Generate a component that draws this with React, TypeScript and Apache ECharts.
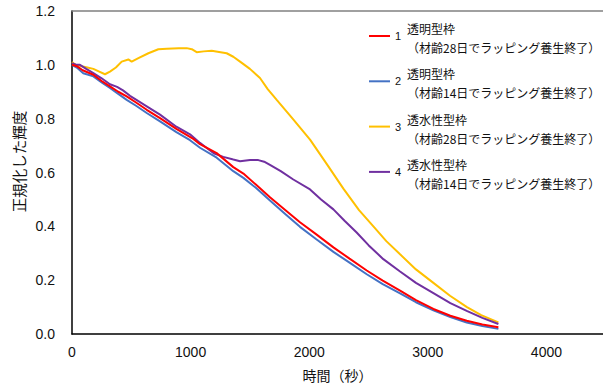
import React, { useEffect, useRef } from "react";
import * as echarts from "echarts";

// Time (s) and normalized luminance
const series1: [number, number][] = [
  [0, 1.0], [40, 0.995], [90, 0.98], [180, 0.963], [250, 0.94], [320, 0.92], [390, 0.9],
  [461, 0.883], [540, 0.86], [630, 0.833], [742, 0.802], [880, 0.762], [1023, 0.725],
  [1079, 0.705], [1220, 0.672], [1360, 0.62], [1445, 0.596], [1550, 0.555], [1669, 0.508],
  [1800, 0.46], [1922, 0.415], [2060, 0.37], [2204, 0.322], [2340, 0.28], [2485, 0.236],
  [2620, 0.198], [2766, 0.161], [2900, 0.126], [3047, 0.093], [3190, 0.068], [3328, 0.049],
  [3460, 0.035], [3595, 0.025],
];
const series2: [number, number][] = [
  [0, 1.0], [40, 0.99], [95, 0.969], [180, 0.957], [250, 0.935], [320, 0.914], [390, 0.892],
  [461, 0.87], [540, 0.848], [630, 0.821], [742, 0.79], [880, 0.75], [995, 0.72],
  [1079, 0.692], [1220, 0.655], [1360, 0.605], [1445, 0.58], [1550, 0.543], [1669, 0.496],
  [1800, 0.445], [1922, 0.398], [2060, 0.352], [2204, 0.305], [2340, 0.265], [2485, 0.222],
  [2620, 0.185], [2766, 0.151], [2900, 0.118], [3047, 0.088], [3190, 0.063], [3328, 0.043],
  [3460, 0.03], [3595, 0.019],
];
const series3: [number, number][] = [
  [0, 1.01], [30, 1.0], [80, 0.995], [130, 0.99], [180, 0.985], [230, 0.975], [278, 0.965],
  [320, 0.975], [370, 0.99], [419, 1.012], [475, 1.02], [503, 1.012], [560, 1.025],
  [644, 1.043], [728, 1.058], [800, 1.06], [900, 1.062], [967, 1.062], [1010, 1.058],
  [1051, 1.047], [1110, 1.05], [1178, 1.052], [1240, 1.048], [1304, 1.043], [1360, 1.03],
  [1417, 1.012], [1500, 0.985], [1585, 0.951], [1650, 0.91], [1726, 0.87], [1860, 0.8],
  [2007, 0.722], [2150, 0.63], [2288, 0.54], [2420, 0.46], [2541, 0.4], [2650, 0.345],
  [2766, 0.296], [2900, 0.24], [3047, 0.19], [3187, 0.142], [3330, 0.1], [3450, 0.07],
  [3595, 0.043],
];
const series4: [number, number][] = [
  [0, 1.006], [40, 1.0], [67, 1.0], [120, 0.985], [180, 0.969], [250, 0.95], [320, 0.928],
  [380, 0.918], [430, 0.905], [489, 0.885], [560, 0.865], [630, 0.846],
  [742, 0.815], [880, 0.77], [995, 0.742], [1079, 0.71], [1136, 0.691], [1200, 0.67],
  [1276, 0.658], [1360, 0.648], [1417, 0.642], [1501, 0.646], [1571, 0.646], [1620, 0.64],
  [1669, 0.628], [1760, 0.605], [1866, 0.574], [2007, 0.537], [2100, 0.5], [2204, 0.463],
  [2300, 0.42], [2400, 0.377], [2500, 0.33], [2625, 0.278], [2766, 0.232], [2900, 0.19],
  [3047, 0.152], [3190, 0.115], [3328, 0.086], [3460, 0.06], [3595, 0.037],
];

const seriesNames = ["1", "2", "3", "4"];
const seriesColors = ["#FF0000", "#4472C4", "#FFC000", "#7030A0"];
const seriesData = [series1, series2, series3, series4];
const legendTitles = ["透明型枠", "透明型枠", "透水性型枠", "透水性型枠"];
const legendNotes = [
  "（材齢28日でラッピング養生終了）",
  "（材齢14日でラッピング養生終了）",
  "（材齢28日でラッピング養生終了）",
  "（材齢14日でラッピング養生終了）",
];
const xAxisTitle = "時間（秒）";
const yAxisTitle = "正規化した輝度";

const CJK = "'Noto Sans CJK JP', 'Liberation Sans', sans-serif";
const LATIN = "'Liberation Sans', Arial, sans-serif";

export default function App() {
  const ref = useRef<HTMLDivElement>(null);
  useEffect(() => {
    if (!ref.current) return;
    const chart = echarts.init(ref.current, null, { renderer: "svg" });
    const graphics: any[] = [];
    legendTitles.forEach((t, i) => {
      graphics.push({
        type: "text",
        left: 407,
        top: 19 + i * 45.3,
        style: {
          text: t + "\n" + legendNotes[i],
          fontSize: 12,
          lineHeight: 19,
          fontFamily: CJK,
          fill: "#111",
        },
      });
    });
    chart.setOption({
      animation: false,
      backgroundColor: "#fff",
      grid: { left: 72, top: 11, right: 0, bottom: 52, containLabel: false },
      legend: {
        data: seriesNames,
        orient: "vertical",
        left: 364,
        top: 24,
        padding: 5,
        icon: "rect",
        itemWidth: 21,
        itemHeight: 2,
        itemGap: 31.3,
        textStyle: { fontSize: 11, lineHeight: 14, fontFamily: LATIN, color: "#111" },
      },
      graphic: graphics,
      xAxis: [
        {
          type: "value",
          min: 0,
          max: 4477,
          interval: 1000,
          name: xAxisTitle,
          nameLocation: "middle",
          nameGap: 34,
          nameMoveOverlap: false,
          nameTextStyle: { fontSize: 14, fontFamily: CJK, color: "#111" },
          axisLine: { show: true, lineStyle: { color: "#000", width: 1.5 } },
          axisTick: { show: false },
          splitLine: { show: false },
          axisLabel: {
            fontSize: 14,
            fontFamily: LATIN,
            color: "#111",
            margin: 11,
            showMaxLabel: false,
            formatter: (v: number) => String(v),
          },
        },
        {
          type: "value",
          position: "top",
          min: 0,
          max: 4477,
          axisLine: { show: true, lineStyle: { color: "#808080", width: 1.5 } },
          axisTick: { show: false },
          axisLabel: { show: false },
          splitLine: { show: false },
        },
      ],
      yAxis: {
        type: "value",
        min: 0,
        max: 1.2,
        interval: 0.2,
        name: yAxisTitle,
        nameLocation: "middle",
        nameRotate: 90,
        nameGap: 46,
        nameMoveOverlap: false,
        nameTextStyle: {
          fontSize: 14.5,
          fontFamily: CJK,
          color: "#111",
          padding: [0, 0, 0, 22],
        },
        axisLine: { show: true, lineStyle: { color: "#000", width: 1.5 } },
        axisTick: { show: false },
        splitLine: { show: false },
        axisLabel: {
          fontSize: 14,
          fontFamily: LATIN,
          color: "#111",
          margin: 17,
          formatter: (v: number) => v.toFixed(1),
        },
      },
      series: seriesNames.map((n, i) => ({
        name: n,
        type: "line",
        xAxisIndex: 0,
        data: seriesData[i],
        showSymbol: false,
        symbol: "none",
        color: seriesColors[i],
        lineStyle: { color: seriesColors[i], width: 2 },
        z: i === 0 ? 5 : 3,
      })),
    });
    return () => chart.dispose();
  }, []);
  return (
    <div
      ref={ref}
      style={{ position: "fixed", left: 0, top: 0, width: 603, height: 387 }}
    />
  );
}
